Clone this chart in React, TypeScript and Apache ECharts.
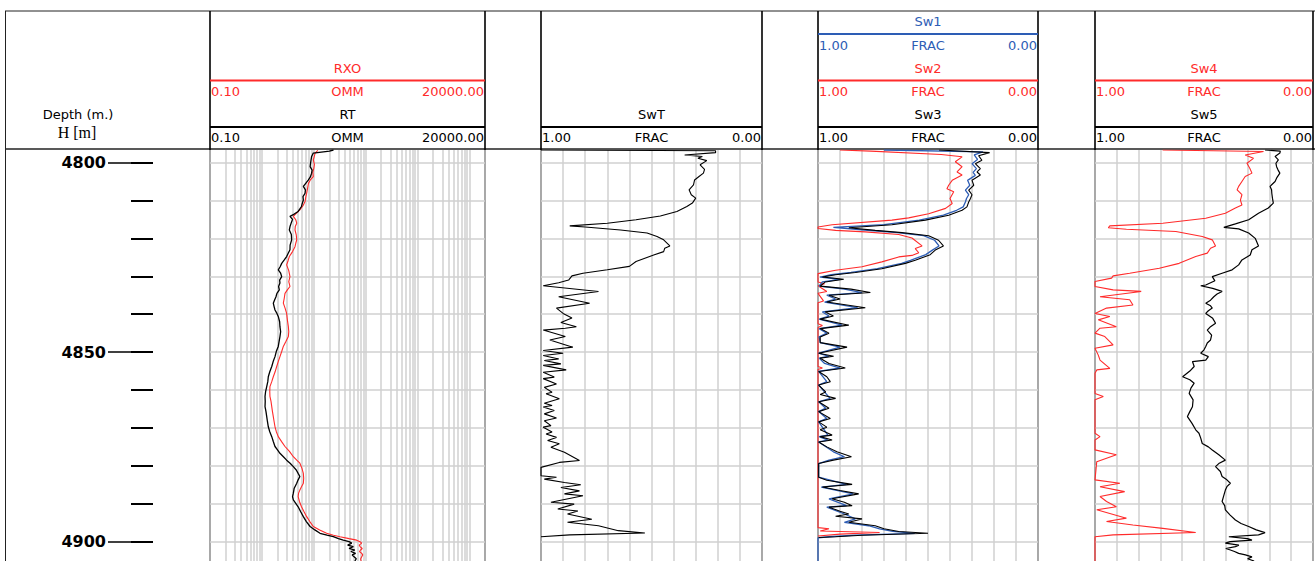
import React, { useEffect, useRef } from "react";
import * as echarts from "echarts";

// ---------- DATA ----------
const DEPTH_MIN = 4796.7;
const DEPTH_MAX = 4905.1;
const DEPTH_LABELS = [4800, 4850, 4900];
const DEPTH_GRID = [4800, 4810, 4820, 4830, 4840, 4850, 4860, 4870, 4880, 4890, 4900];
const LOG_GRID = [
  0.1, 0.2, 0.3, 0.4, 0.5, 0.6, 0.7, 0.8, 0.9,
  1, 2, 3, 4, 5, 6, 7, 8, 9,
  10, 20, 30, 40, 50, 60, 70, 80, 90,
  100, 200, 300, 400, 500, 600, 700, 800, 900,
  1000, 2000, 3000, 4000, 5000, 6000, 7000, 8000, 9000,
  10000, 20000,
];

// [depth, value]
const RT: [number, number][] = [
  [4796.7, 24], [4797.0, 20], [4797.5, 9.8], [4798.4, 9.1], [4799.6, 8.8], [4801.1, 8.5], [4802.0, 9.3], [4802.8, 9.1],
  [4803.8, 8.6], [4804.6, 7.9], [4805.5, 7.0], [4806.3, 6.3], [4807.2, 6.9], [4808.1, 6.8], [4809.0, 6.2], [4809.9, 6.3],
  [4810.8, 6.0], [4811.6, 5.8], [4812.9, 5.0], [4813.6, 4.2], [4814.2, 3.48], [4815.0, 3.9], [4815.6, 3.75],
  [4816.8, 3.5], [4817.8, 3.38], [4819.0, 3.7], [4820.4, 3.75], [4821.8, 3.5], [4823.0, 3.48], [4824.0, 3.2],
  [4824.8, 3.0], [4825.7, 2.7], [4826.6, 2.41], [4827.5, 2.25], [4828.3, 2.07], [4829.2, 2.3], [4830.1, 2.41],
  [4831.0, 2.2], [4831.8, 2.23], [4832.7, 2.1], [4833.6, 2.17], [4834.5, 1.95], [4835.4, 1.87], [4836.3, 1.75],
  [4837.1, 1.66], [4838.0, 1.72], [4838.9, 1.79], [4839.8, 1.95], [4840.6, 2.07], [4842.0, 2.2], [4843.3, 2.23],
  [4844.6, 2.3], [4845.9, 2.23], [4847.2, 2.15], [4848.5, 2.07], [4849.8, 1.9], [4851.2, 1.79], [4852.5, 1.65],
  [4853.8, 1.55], [4855.2, 1.42], [4856.5, 1.33], [4857.8, 1.3], [4859.1, 1.24], [4860.4, 1.18], [4861.7, 1.15],
  [4863.0, 1.16], [4864.4, 1.15], [4865.7, 1.2], [4867.0, 1.24], [4868.3, 1.28], [4869.7, 1.33], [4871.0, 1.42],
  [4872.3, 1.55], [4873.6, 1.66], [4874.9, 1.79], [4875.8, 2.0], [4876.7, 2.23], [4877.6, 2.6], [4878.5, 3.0],
  [4879.3, 3.5], [4880.2, 4.04], [4881.1, 4.6], [4882.0, 5.0], [4882.8, 5.4], [4883.7, 5.0], [4884.6, 4.7],
  [4885.9, 4.2], [4887.2, 4.04], [4888.1, 3.9], [4889.0, 4.04], [4889.9, 4.5], [4890.8, 5.0], [4892.1, 5.6],
  [4893.4, 6.3], [4894.7, 7.2], [4896.0, 8.5], [4896.9, 10.5], [4897.8, 13.2], [4898.3, 18], [4898.7, 23.8],
  [4899.2, 30], [4899.6, 37], [4900.0, 48], [4900.4, 54], [4900.9, 45], [4901.3, 58], [4901.8, 48], [4902.2, 62],
  [4902.6, 52], [4903.1, 64], [4903.5, 55], [4904.0, 60], [4904.5, 66], [4905.1, 62],
];

const RXO: [number, number][] = [
  [4796.8, 12], [4797.5, 10.6], [4798.5, 10.2], [4799.3, 9.8], [4800.5, 10.3], [4801.6, 10.0], [4802.6, 9.6],
  [4803.7, 9.8], [4804.6, 8.6], [4805.5, 7.9], [4806.8, 7.6], [4808.1, 7.3], [4809.2, 7.0], [4810.3, 6.8],
  [4811.4, 6.2], [4812.5, 5.4], [4813.4, 4.6], [4814.2, 4.04], [4815.1, 4.5], [4816.0, 4.7], [4816.9, 4.4],
  [4817.8, 4.35], [4819.1, 4.6], [4820.4, 4.7], [4821.3, 4.5], [4822.2, 4.35], [4823.5, 3.9], [4824.8, 3.38],
  [4825.9, 3.2], [4827.0, 3.0], [4828.5, 3.3], [4830.1, 3.48], [4831.4, 3.3], [4832.7, 3.48], [4833.6, 3.1],
  [4834.5, 2.79], [4835.8, 2.7], [4837.1, 2.59], [4838.4, 2.8], [4839.8, 3.0], [4841.5, 3.1], [4843.3, 3.24],
  [4844.6, 3.3], [4845.9, 3.24], [4847.2, 2.9], [4848.5, 2.59], [4849.9, 2.4], [4851.2, 2.23], [4852.5, 2.07],
  [4853.8, 1.93], [4855.2, 1.8], [4856.5, 1.66], [4857.8, 1.55], [4859.1, 1.43], [4860.4, 1.42], [4861.7, 1.43],
  [4863.0, 1.5], [4864.4, 1.55], [4865.7, 1.6], [4867.0, 1.66], [4868.3, 1.72], [4869.7, 1.79], [4871.0, 1.9],
  [4872.3, 2.07], [4873.6, 2.4], [4874.9, 2.79], [4876.2, 3.4], [4877.6, 4.04], [4878.5, 4.7], [4879.3, 5.4],
  [4880.6, 5.9], [4882.0, 6.3], [4883.3, 6.4], [4884.6, 6.3], [4885.5, 5.8], [4886.4, 5.4], [4887.2, 5.1],
  [4888.1, 5.0], [4889.4, 5.3], [4890.8, 5.8], [4892.1, 6.5], [4893.4, 7.3], [4894.7, 8.4], [4896.0, 9.8],
  [4896.9, 13], [4897.8, 17.7], [4898.3, 24], [4898.7, 32], [4899.2, 48], [4899.6, 67], [4900.0, 78], [4900.4, 84],
  [4900.9, 75], [4901.3, 78], [4901.8, 86], [4902.2, 80], [4902.6, 76], [4903.1, 84], [4903.5, 88], [4904.0, 84],
  [4904.6, 80], [4905.1, 82],
];

const SWT: [number, number][] = [
  [4796.7, 1.0], [4796.9, 0.21], [4797.4, 0.21], [4798.0, 0.35], [4798.4, 0.27], [4798.9, 0.29], [4799.5, 0.25],
  [4800.6, 0.28], [4801.8, 0.26], [4802.8, 0.265], [4803.7, 0.285], [4804.6, 0.305], [4805.9, 0.31], [4807.2, 0.33],
  [4808.5, 0.32], [4809.4, 0.3], [4810.7, 0.315], [4811.6, 0.34], [4812.9, 0.385], [4814.1, 0.46], [4815.1, 0.57],
  [4816.0, 0.7], [4816.7, 0.87], [4817.0, 0.8], [4817.8, 0.64], [4818.6, 0.52], [4819.5, 0.475], [4820.4, 0.445],
  [4822.0, 0.417], [4822.6, 0.44], [4823.5, 0.445], [4824.4, 0.49], [4826.1, 0.57], [4827.4, 0.6], [4828.3, 0.7],
  [4829.2, 0.81], [4829.9, 0.86], [4831.0, 0.875], [4831.7, 0.92], [4832.5, 0.99], [4834.0, 0.74], [4835.4, 0.92],
  [4837.1, 0.78], [4838.4, 0.93], [4839.8, 0.9], [4841.0, 0.86], [4842.2, 0.91], [4843.3, 0.84], [4843.7, 0.89],
  [4844.2, 0.99], [4845.9, 0.89], [4846.8, 0.96], [4848.7, 0.856], [4849.6, 0.99], [4850.3, 0.9], [4850.9, 0.99],
  [4851.8, 0.92], [4852.2, 0.985], [4853.1, 0.91], [4853.5, 0.99], [4854.7, 0.886], [4855.3, 0.99], [4856.6, 0.94],
  [4857.0, 0.99], [4858.4, 0.93], [4859.3, 0.985], [4860.6, 0.95], [4861.0, 0.977], [4862.3, 0.917], [4863.5, 0.985],
  [4864.1, 0.95], [4864.5, 0.99], [4865.4, 0.94], [4866.3, 0.985], [4867.4, 0.93], [4868.1, 0.985], [4869.4, 0.955],
  [4869.8, 0.99], [4871.1, 0.95], [4871.6, 0.977], [4872.5, 0.93], [4873.3, 0.97], [4874.2, 0.917], [4875.1, 0.955],
  [4876.4, 0.894], [4878.6, 0.826], [4879.1, 0.917], [4880.4, 1.0], [4882.6, 1.0], [4883.0, 0.93], [4883.5, 0.985],
  [4884.4, 0.894], [4885.0, 0.82], [4885.7, 0.91], [4886.6, 0.826], [4887.4, 0.894], [4887.9, 0.81], [4889.6, 0.955],
  [4890.1, 0.85], [4891.4, 0.924], [4891.9, 0.833], [4892.7, 0.88], [4894.1, 0.77], [4894.9, 0.88], [4895.8, 0.74],
  [4897.1, 0.65], [4897.7, 0.53], [4898.2, 0.87], [4898.7, 1.0],
];

const SW1: [number, number][] = [
  [4796.7, 0.7], [4797.2, 0.25], [4798.0, 0.29], [4799.2, 0.275], [4800.3, 0.3], [4801.6, 0.28], [4802.6, 0.295],
  [4803.4, 0.285], [4804.7, 0.32], [4806.0, 0.31], [4807.3, 0.33], [4808.5, 0.315], [4809.5, 0.325], [4810.4, 0.33],
  [4811.7, 0.34], [4812.6, 0.37], [4813.9, 0.43], [4815.2, 0.54], [4816.4, 0.7], [4817.1, 0.93], [4817.8, 0.79],
  [4818.5, 0.64], [4819.3, 0.52], [4820.5, 0.47], [4822.0, 0.45], [4823.1, 0.48], [4824.3, 0.51], [4825.8, 0.58],
  [4826.6, 0.62], [4828.0, 0.73], [4829.0, 0.85], [4829.6, 0.94], [4830.2, 0.99], [4830.8, 0.9], [4831.5, 0.98],
  [4832.6, 0.995], [4833.4, 0.88], [4834.3, 0.8], [4835.0, 0.96], [4836.0, 0.92], [4836.8, 0.97], [4838.3, 0.82],
  [4839.4, 0.98], [4840.5, 0.95], [4841.3, 0.995], [4842.9, 0.89], [4843.8, 0.995], [4845.0, 0.96], [4846.0, 0.995],
  [4847.5, 0.99], [4848.7, 0.9], [4850.3, 0.997], [4851.1, 0.95], [4851.6, 0.995], [4853.0, 0.97], [4854.2, 0.9],
  [4855.1, 0.997], [4857.8, 0.96], [4858.7, 0.997], [4862.2, 0.945], [4863.1, 0.997], [4864.8, 0.965], [4865.7, 0.997],
  [4867.5, 0.96], [4868.4, 0.997], [4871.9, 0.955], [4872.3, 0.995], [4873.2, 0.955], [4873.7, 0.997], [4876.3, 0.93],
  [4877.6, 0.88], [4878.5, 0.95], [4879.4, 0.997], [4883.0, 0.997], [4884.9, 0.87], [4885.6, 0.985], [4887.4, 0.84],
  [4888.7, 0.95], [4890.5, 0.87], [4890.9, 0.96], [4892.7, 0.88], [4894.0, 0.83], [4894.9, 0.88], [4895.8, 0.77],
  [4896.6, 0.72], [4897.3, 0.66], [4897.8, 0.56], [4898.3, 0.83], [4898.7, 0.95], [4899.0, 1.0], [4905.1, 1.0],
];

const SW2: [number, number][] = [
  [4796.7, 0.9], [4797.0, 0.76], [4797.9, 0.44], [4798.5, 0.345], [4799.8, 0.376], [4801.1, 0.345], [4802.5, 0.368],
  [4803.3, 0.345], [4804.7, 0.39], [4806.0, 0.406], [4806.9, 0.414], [4807.7, 0.383], [4809.5, 0.4], [4810.8, 0.39],
  [4812.1, 0.42], [4813.5, 0.497], [4814.6, 0.588], [4815.2, 0.664], [4816.4, 0.936], [4817.0, 1.0], [4817.4, 1.0],
  [4817.9, 0.92], [4818.3, 0.785], [4819.0, 0.633], [4819.9, 0.573], [4822.0, 0.527], [4822.7, 0.558], [4823.8, 0.542],
  [4824.5, 0.573], [4824.9, 0.633], [4826.2, 0.71], [4827.5, 0.8], [4828.4, 0.92], [4829.3, 1.0], [4831.5, 1.0],
  [4832.0, 0.97], [4832.5, 1.0], [4834.0, 0.96], [4834.5, 1.0], [4836.5, 0.975], [4837.0, 1.0], [4842.5, 1.0],
  [4843.0, 0.98], [4843.5, 1.0], [4853.8, 1.0], [4854.2, 0.98], [4854.6, 1.0], [4896.3, 1.0], [4896.6, 0.95],
  [4897.2, 0.99], [4897.6, 0.72], [4898.0, 0.9], [4898.5, 1.0],
];

const SW3: [number, number][] = [
  [4796.7, 0.45], [4797.4, 0.22], [4798.2, 0.27], [4799.4, 0.255], [4800.3, 0.285], [4801.6, 0.262], [4802.5, 0.277],
  [4803.3, 0.262], [4804.7, 0.3], [4806.0, 0.292], [4807.3, 0.315], [4808.5, 0.3], [4809.5, 0.307], [4810.4, 0.315],
  [4811.7, 0.323], [4812.6, 0.345], [4813.9, 0.406], [4815.2, 0.512], [4816.4, 0.664], [4817.2, 0.86], [4817.9, 0.74],
  [4818.5, 0.618], [4819.3, 0.497], [4820.5, 0.452], [4822.0, 0.43], [4823.1, 0.467], [4824.3, 0.49], [4825.8, 0.558],
  [4826.6, 0.603], [4828.0, 0.71], [4829.0, 0.83], [4829.6, 0.92], [4830.2, 0.98], [4830.8, 0.883], [4831.5, 0.967],
  [4832.6, 0.99], [4833.4, 0.85], [4834.3, 0.762], [4835.0, 0.95], [4836.0, 0.9], [4836.8, 0.96], [4838.3, 0.785],
  [4839.4, 0.967], [4840.5, 0.93], [4841.3, 0.99], [4842.9, 0.86], [4843.8, 0.99], [4845.0, 0.95], [4846.0, 0.99],
  [4847.5, 0.99], [4848.7, 0.868], [4850.3, 0.997], [4851.1, 0.929], [4851.6, 0.99], [4853.0, 0.95], [4854.2, 0.876],
  [4855.1, 0.997], [4856.5, 0.96], [4857.8, 0.944], [4858.7, 0.997], [4860.5, 0.965], [4861.2, 0.99], [4862.2, 0.92],
  [4863.1, 0.997], [4864.8, 0.95], [4865.7, 0.997], [4867.5, 0.944], [4868.4, 0.997], [4869.8, 0.96], [4870.5, 0.99],
  [4871.9, 0.936], [4872.3, 0.99], [4873.2, 0.936], [4873.7, 0.997], [4875.0, 0.96], [4876.3, 0.914], [4877.6, 0.848],
  [4878.5, 0.93], [4879.4, 0.997], [4883.0, 0.997], [4883.8, 0.96], [4884.9, 0.845], [4885.6, 0.98], [4886.5, 0.9],
  [4887.4, 0.815], [4888.7, 0.936], [4889.6, 0.88], [4890.5, 0.845], [4890.9, 0.95], [4892.0, 0.9], [4892.7, 0.86],
  [4893.3, 0.92], [4894.0, 0.8], [4894.9, 0.86], [4895.8, 0.74], [4896.6, 0.7], [4897.3, 0.633], [4897.8, 0.5],
  [4898.3, 0.8], [4898.7, 0.92], [4898.9, 0.997],
];

const SW4: [number, number][] = [
  [4796.7, 0.69], [4797.1, 0.227], [4798.0, 0.311], [4798.9, 0.273], [4800.2, 0.303], [4801.5, 0.29], [4802.8, 0.28],
  [4803.7, 0.311], [4805.0, 0.326], [4806.3, 0.341], [4807.2, 0.348], [4808.5, 0.326], [4809.9, 0.333], [4811.2, 0.326],
  [4812.0, 0.356], [4813.4, 0.402], [4814.7, 0.492], [4816.0, 0.689], [4816.7, 0.932], [4817.2, 0.939], [4817.6, 0.856],
  [4818.2, 0.629], [4819.5, 0.508], [4820.4, 0.462], [4822.0, 0.447], [4822.6, 0.47], [4823.9, 0.485], [4824.8, 0.538],
  [4826.6, 0.614], [4827.9, 0.705], [4829.2, 0.841], [4829.9, 0.917], [4830.5, 0.924], [4831.4, 1.0], [4832.7, 1.0],
  [4833.6, 0.917], [4834.0, 0.788], [4835.4, 0.977], [4836.2, 0.841], [4837.6, 0.826], [4838.4, 0.947], [4839.8, 1.0],
  [4840.6, 0.932], [4841.5, 0.985], [4843.3, 0.902], [4843.7, 0.977], [4845.0, 1.0], [4845.9, 0.955], [4848.1, 0.917],
  [4849.0, 1.0], [4850.8, 0.985], [4852.1, 0.977], [4854.3, 0.932], [4854.7, 0.992], [4855.6, 1.0], [4860.9, 1.0],
  [4861.7, 0.962], [4862.6, 1.0], [4871.4, 1.0], [4872.3, 0.977], [4873.2, 1.0], [4875.8, 1.0], [4877.1, 0.902],
  [4878.9, 0.992], [4883.7, 1.0], [4884.6, 0.886], [4885.5, 0.977], [4886.8, 0.864], [4888.1, 0.977], [4889.4, 0.947],
  [4890.8, 0.902], [4891.6, 0.992], [4893.8, 0.856], [4894.7, 0.947], [4895.6, 0.826], [4896.5, 0.689], [4897.6, 0.538],
  [4898.2, 0.917], [4898.7, 1.0], [4905.1, 1.0],
];

const SW5: [number, number][] = [
  [4796.7, 0.22], [4797.0, 0.15], [4797.5, 0.152], [4798.4, 0.174], [4799.3, 0.159], [4800.2, 0.17], [4801.1, 0.167],
  [4802.0, 0.16], [4802.8, 0.152], [4803.9, 0.165], [4805.0, 0.174], [4806.3, 0.197], [4807.2, 0.19], [4808.1, 0.189],
  [4809.4, 0.186], [4810.7, 0.182], [4812.0, 0.205], [4813.4, 0.25], [4815.1, 0.295], [4816.2, 0.356], [4817.1, 0.409],
  [4817.5, 0.341], [4818.6, 0.295], [4820.0, 0.265], [4822.0, 0.25], [4823.0, 0.28], [4824.4, 0.288], [4825.7, 0.326],
  [4827.0, 0.341], [4828.3, 0.371], [4829.2, 0.417], [4830.1, 0.462], [4831.2, 0.45], [4832.3, 0.492], [4832.5, 0.515],
  [4833.2, 0.46], [4834.0, 0.417], [4834.7, 0.44], [4835.4, 0.455], [4836.3, 0.47], [4837.1, 0.492], [4837.8, 0.47],
  [4838.4, 0.462], [4839.1, 0.48], [4839.8, 0.492], [4841.1, 0.46], [4842.4, 0.447], [4843.3, 0.47], [4844.2, 0.485],
  [4845.5, 0.465], [4846.8, 0.47], [4847.6, 0.485], [4848.5, 0.492], [4849.4, 0.5], [4850.3, 0.515], [4851.2, 0.48],
  [4852.1, 0.492], [4852.5, 0.553], [4853.8, 0.545], [4855.0, 0.565], [4856.5, 0.598], [4857.3, 0.565], [4858.2, 0.545],
  [4859.5, 0.56], [4860.9, 0.568], [4862.6, 0.55], [4864.4, 0.553], [4865.7, 0.565], [4867.0, 0.576], [4868.8, 0.555],
  [4870.5, 0.538], [4871.4, 0.523], [4872.7, 0.515], [4874.1, 0.508], [4875.0, 0.48], [4875.8, 0.462], [4877.1, 0.432],
  [4878.5, 0.402], [4879.3, 0.43], [4880.2, 0.447], [4881.5, 0.425], [4882.8, 0.417], [4883.7, 0.395], [4884.6, 0.379],
  [4885.5, 0.395], [4886.4, 0.402], [4888.0, 0.41], [4889.4, 0.417], [4890.5, 0.405], [4891.6, 0.402], [4893.0, 0.38],
  [4894.3, 0.356], [4895.2, 0.33], [4896.0, 0.295], [4896.9, 0.26], [4897.6, 0.22], [4898.2, 0.25], [4898.7, 0.386],
  [4899.2, 0.3], [4899.6, 0.28], [4900.0, 0.38], [4900.4, 0.402], [4900.9, 0.34], [4901.3, 0.356], [4901.8, 0.4],
  [4902.2, 0.379], [4902.6, 0.36], [4903.1, 0.341], [4903.5, 0.31], [4904.0, 0.28], [4904.5, 0.3], [4905.1, 0.27],
];

// ---------- STYLE / LAYOUT ----------
const RED = "#ff2b2b";
const BLUE = "#2d5db5";
const GRIDC = "#d0d0d0";
const FONT = '13px "DejaVu Sans"';
const TOP = 150;
const H = 411;
const TRACKS = [
  { l: 210, r: 485 },
  { l: 541, r: 762 },
  { l: 818, r: 1038 },
  { l: 1095, r: 1313 },
];

function txt(text: string, x: number, y: number, color: string, align: string, font = FONT) {
  return {
    type: "text",
    x,
    y,
    silent: true,
    style: {
      text,
      fill: color,
      font,
      align,
      textAlign: align,
      verticalAlign: "middle",
      textVerticalAlign: "middle",
    },
  };
}
function ln(x1: number, y1: number, x2: number, y2: number, color: string, w: number) {
  return {
    type: "line",
    silent: true,
    shape: { x1, y1, x2, y2 },
    style: { stroke: color, lineWidth: w },
  };
}
function scaleRow(t: { l: number; r: number }, y: number, color: string, left: string, unit: string, right: string) {
  return [
    txt(left, t.l + 1, y, color, "left"),
    txt(unit, (t.l + t.r) / 2, y, color, "center"),
    txt(right, t.r - 1, y, color, "right"),
  ];
}

function buildOption() {
  const [t1, t2, t3, t4] = TRACKS;
  const graphics: any[] = [];
  // frame
  graphics.push(ln(5, 11, 1315, 11, "#222", 1));
  graphics.push(ln(5, 149, 1315, 149, "#222", 1.5));
  graphics.push(ln(5.5, 11, 5.5, 561, "#222", 1));
  TRACKS.forEach((t) => {
    graphics.push(ln(t.l, 11, t.l, 561, "#000", 1.6));
    graphics.push(ln(t.r, 11, t.r, 561, "#000", 1.6));
  });
  // header lines
  graphics.push(ln(t1.l, 80.5, t1.r, 80.5, RED, 2));
  graphics.push(ln(t1.l, 127, t1.r, 127, "#000", 2));
  graphics.push(ln(t2.l, 127, t2.r, 127, "#000", 2));
  graphics.push(ln(t3.l, 34, t3.r, 34, BLUE, 2));
  graphics.push(ln(t3.l, 80.5, t3.r, 80.5, RED, 2));
  graphics.push(ln(t3.l, 127, t3.r, 127, "#000", 2));
  graphics.push(ln(t4.l, 80.5, t4.r, 80.5, RED, 2));
  graphics.push(ln(t4.l, 127, t4.r, 127, "#000", 2));
  // depth header
  graphics.push(txt("Depth (m.)", 78, 114, "#000", "center", '13px "DejaVu Sans"'));
  graphics.push(txt("H [m]", 77, 132, "#000", "center", '16px "Liberation Serif"'));
  // track 1
  graphics.push(txt("RXO", (t1.l + t1.r) / 2, 68, RED, "center"));
  graphics.push(...scaleRow(t1, 91, RED, "0.10", "OMM", "20000.00"));
  graphics.push(txt("RT", (t1.l + t1.r) / 2, 114, "#000", "center"));
  graphics.push(...scaleRow(t1, 137.5, "#000", "0.10", "OMM", "20000.00"));
  // SwT
  graphics.push(txt("SwT", (t2.l + t2.r) / 2, 114, "#000", "center"));
  graphics.push(...scaleRow(t2, 137.5, "#000", "1.00", "FRAC", "0.00"));
  // Sw1-3
  graphics.push(txt("Sw1", (t3.l + t3.r) / 2, 21, BLUE, "center"));
  graphics.push(...scaleRow(t3, 45, BLUE, "1.00", "FRAC", "0.00"));
  graphics.push(txt("Sw2", (t3.l + t3.r) / 2, 68, RED, "center"));
  graphics.push(...scaleRow(t3, 91, RED, "1.00", "FRAC", "0.00"));
  graphics.push(txt("Sw3", (t3.l + t3.r) / 2, 114, "#000", "center"));
  graphics.push(...scaleRow(t3, 137.5, "#000", "1.00", "FRAC", "0.00"));
  // Sw4-5
  graphics.push(txt("Sw4", (t4.l + t4.r) / 2, 68, RED, "center"));
  graphics.push(...scaleRow(t4, 91, RED, "1.00", "FRAC", "0.00"));
  graphics.push(txt("Sw5", (t4.l + t4.r) / 2, 114, "#000", "center"));
  graphics.push(...scaleRow(t4, 137.5, "#000", "1.00", "FRAC", "0.00"));

  const grids: any[] = TRACKS.map((t) => ({ left: t.l, top: TOP, width: t.r - t.l, height: H, containLabel: false }));
  grids.push({ left: 153, top: TOP, width: 1, height: H, containLabel: false });

  const hidden = { axisLine: { show: false }, axisTick: { show: false }, axisLabel: { show: false } };
  const xAxes: any[] = [
    { gridIndex: 0, type: "log", logBase: 10, min: 0.1, max: 20000, ...hidden, splitLine: { show: false } },
    ...[1, 2, 3].map((i) => ({
      gridIndex: i,
      type: "value",
      min: 0,
      max: 1,
      interval: 0.1,
      inverse: true,
      ...hidden,
      splitLine: { show: true, lineStyle: { color: GRIDC, width: 1.5 } },
    })),
    { gridIndex: 4, type: "value", min: 0, max: 1, show: false },
  ];
  const yBase = { type: "value", min: DEPTH_MIN, max: DEPTH_MAX, inverse: true };
  const yAxes: any[] = [
    ...[0, 1, 2, 3].map((i) => ({ gridIndex: i, ...yBase, ...hidden, splitLine: { show: false } })),
    {
      gridIndex: 4,
      ...yBase,
      position: "left",
      axisLine: { show: false },
      splitLine: { show: false },
      axisTick: { show: true, length: 45, customValues: DEPTH_LABELS, lineStyle: { color: "#000", width: 1.5 } },
      axisLabel: {
        show: true,
        customValues: DEPTH_LABELS,
        margin: 47,
        color: "#000",
        fontFamily: "DejaVu Sans",
        fontWeight: "bold",
        fontSize: 16,
        formatter: (v: number) => String(v),
      },
    },
    {
      gridIndex: 4,
      ...yBase,
      position: "left",
      axisLine: { show: false },
      splitLine: { show: false },
      axisTick: { show: true, length: 22, customValues: DEPTH_GRID, lineStyle: { color: "#000", width: 2 } },
      axisLabel: { show: false },
    },
  ];

  const gridLineStyle = { color: GRIDC, width: 1.5, type: "solid" };
  const mk = (withLog: boolean) => ({
    silent: true,
    symbol: ["none", "none"],
    z: 1,
    label: { show: false },
    emphasis: { disabled: true },
    lineStyle: gridLineStyle,
    animation: false,
    data: [
      ...(withLog ? LOG_GRID.map((v) => ({ xAxis: v })) : []),
      ...DEPTH_GRID.map((d) => ({ yAxis: d })),
    ],
  });

  const curve = (data: [number, number][], idx: number, color: string, width: number, z: number, markLine?: any) => ({
    type: "line",
    xAxisIndex: idx,
    yAxisIndex: idx,
    data: data.map(([d, v]) => [v, d]),
    showSymbol: false,
    symbol: "none",
    silent: true,
    z,
    lineStyle: { color, width },
    ...(markLine ? { markLine } : {}),
  });

  const series: any[] = [
    curve(RXO, 0, RED, 1.1, 3, mk(true)),
    curve(RT, 0, "#000", 1.3, 4),
    curve(SWT, 1, "#000", 1.1, 3, mk(false)),
    curve(SW2, 2, RED, 1.1, 3, mk(false)),
    curve(SW1, 2, BLUE, 1.3, 4),
    curve(SW3, 2, "#000", 1.1, 5),
    curve(SW4, 3, RED, 1.1, 3, mk(false)),
    curve(SW5, 3, "#000", 1.2, 4),
  ];

  return {
    animation: false,
    backgroundColor: "#fff",
    grid: grids,
    xAxis: xAxes,
    yAxis: yAxes,
    series,
    graphic: { elements: graphics },
  };
}

export default function App() {
  const ref = useRef<HTMLDivElement>(null);
  useEffect(() => {
    if (!ref.current) return;
    const chart = echarts.init(ref.current, null, { renderer: "svg" });
    chart.setOption(buildOption() as any);
    return () => chart.dispose();
  }, []);
  return (
    <div
      ref={ref}
      style={{ position: "fixed", left: 0, top: 0, width: 1315, height: 561, background: "#fff" }}
    />
  );
}
